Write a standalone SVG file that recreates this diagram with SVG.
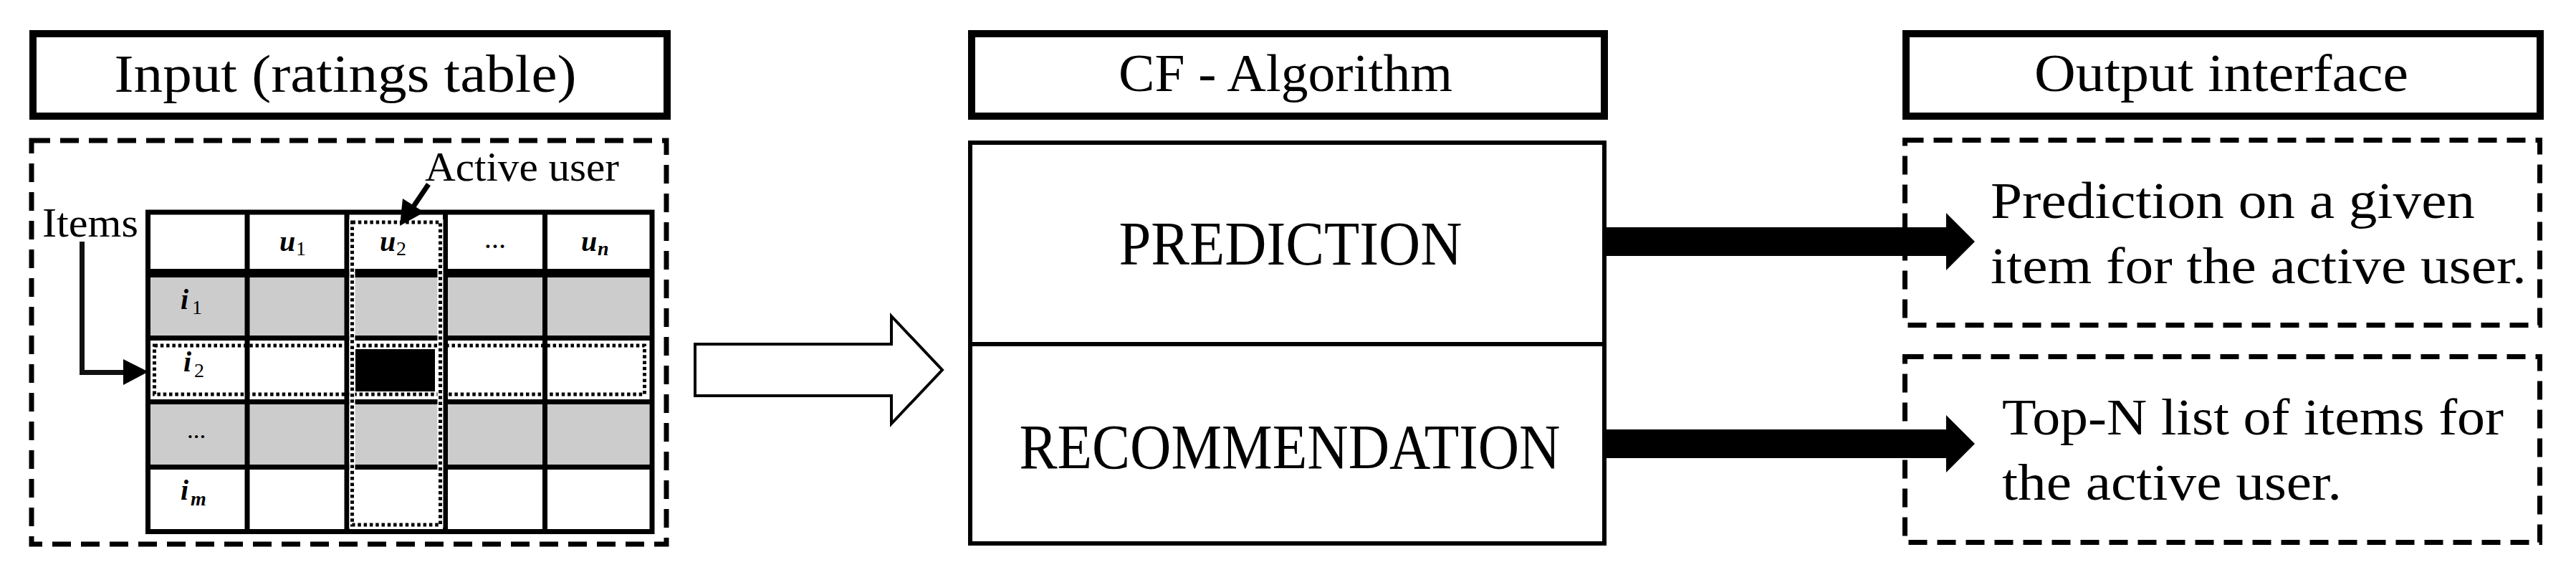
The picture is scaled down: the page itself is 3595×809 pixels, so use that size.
<svg xmlns="http://www.w3.org/2000/svg" width="3595" height="809" viewBox="0 0 3595 809">
<style>
.t{font-family:"Liberation Serif","Times New Roman",serif;fill:#000}
.title{stroke:#000;stroke-width:10;fill:#fff}
.dash{stroke:#000;stroke-width:7;fill:none;stroke-dasharray:26 14}
.grid{stroke:#000;stroke-width:7;fill:none}
.m{font-family:"Liberation Serif","Times New Roman",serif;font-weight:bold;font-style:italic;fill:#000}
.s{font-family:"Liberation Serif","Times New Roman",serif;font-weight:normal;font-style:normal;fill:#000}
.dotw{stroke:#fff;stroke-width:8;fill:none}
.dot{stroke:#000;stroke-width:5;fill:none;stroke-dasharray:4.5 3.8}
.blk{fill:#000;stroke:none}
</style>
<rect width="3595" height="809" fill="#fff"/>

<g id="input-title">
<rect class="title" x="46" y="47" width="885" height="115"/>
<text class="t" x="482" y="128" font-size="75" text-anchor="middle" textLength="645" lengthAdjust="spacingAndGlyphs">Input (ratings table)</text>
</g>

<g id="input-panel">
<rect class="dash" x="44" y="196" width="886" height="563"/>
<text class="t" x="593" y="252" font-size="56" textLength="271" lengthAdjust="spacingAndGlyphs">Active user</text>
<text class="t" x="59" y="330" font-size="57" textLength="134" lengthAdjust="spacingAndGlyphs">Items</text>
<!-- table fills -->
<rect x="206" y="296" width="704" height="446" fill="#fff"/>
<rect x="210" y="387" width="696" height="81" fill="#cccccc"/>
<rect x="210" y="564" width="696" height="84" fill="#cccccc"/>
<rect x="496" y="487" width="111" height="59" fill="#000"/>
<!-- grid -->
<rect class="grid" x="206.5" y="296" width="703.5" height="445.5"/>
<path class="grid" d="M345 296V741.5M484 296V741.5M621.5 296V741.5M760.5 296V741.5M206.5 471.5H910M206.5 560.5H910M206.5 651.5H910"/>
<path d="M206.5 381H910" stroke="#000" stroke-width="12"/>
<!-- highlighted row and column -->
<rect class="dot" x="215.5" y="482" width="684" height="68"/>
<rect class="dotw" x="491.5" y="310" width="123" height="422"/>
<rect class="dot" x="491.5" y="310" width="123" height="422"/>
<!-- labels -->
<text class="m" x="390" y="350" font-size="40">u</text><text class="s" x="413" y="356" font-size="28">1</text>
<text class="m" x="530" y="350" font-size="40">u</text><text class="s" x="553" y="356" font-size="28">2</text>
<text class="m" x="692" y="346" font-size="30" text-anchor="middle">…</text>
<text class="m" x="811" y="350" font-size="40">u</text><text class="m" x="834" y="356" font-size="28">n</text>
<text class="m" x="252" y="431" font-size="40">i</text><text class="s" x="268" y="438" font-size="28">1</text>
<text class="m" x="256" y="518" font-size="40">i</text><text class="s" x="271" y="526" font-size="28">2</text>
<text class="m" x="275" y="611" font-size="26" text-anchor="middle">…</text>
<text class="m" x="252" y="697" font-size="40">i</text><text class="m" x="266" y="705" font-size="28">m</text>
</g>

<g id="cf-title">
<rect class="title" x="1356" y="47" width="883" height="115"/>
<text class="t" x="1794" y="127" font-size="75" text-anchor="middle" textLength="466" lengthAdjust="spacingAndGlyphs">CF - Algorithm</text>
</g>

<g id="algorithm">
<rect x="1354" y="199" width="885" height="559" fill="#fff" stroke="#000" stroke-width="6"/>
<path d="M1354 480H2239" stroke="#000" stroke-width="6"/>
<text class="t" x="1801" y="369" font-size="87" text-anchor="middle" textLength="479" lengthAdjust="spacingAndGlyphs">PREDICTION</text>
<text class="t" x="1800" y="653" font-size="89" text-anchor="middle" textLength="755" lengthAdjust="spacingAndGlyphs">RECOMMENDATION</text>
</g>

<g id="output-title">
<rect class="title" x="2660" y="47" width="885" height="115"/>
<text class="t" x="3100" y="127" font-size="75" text-anchor="middle" textLength="522" lengthAdjust="spacingAndGlyphs">Output interface</text>
</g>

<g id="output-prediction">
<rect class="dash" x="2658.5" y="195.5" width="886" height="258"/>
<text class="t" x="2778" y="304" font-size="71" textLength="676" lengthAdjust="spacingAndGlyphs">Prediction on a given</text>
<text class="t" x="2778" y="395" font-size="71" textLength="748" lengthAdjust="spacingAndGlyphs">item for the active user.</text>
</g>

<g id="output-topn">
<rect class="dash" x="2658.5" y="497.5" width="886" height="259"/>
<text class="t" x="2794" y="606" font-size="71" textLength="700" lengthAdjust="spacingAndGlyphs">Top-N list of items for</text>
<text class="t" x="2794" y="697" font-size="71" textLength="474" lengthAdjust="spacingAndGlyphs">the active user.</text>
</g>

<g id="connectors">
<path d="M598 257L575 291" stroke="#000" stroke-width="7" fill="none"/>
<polygon class="blk" points="562,277 592,296 558,315"/>
<polyline points="114.5,337 114.5,519.5 176,519.5" stroke="#111" stroke-width="7" fill="none"/>
<polygon class="blk" points="172,501 207,518.5 172,537"/>
<polygon points="970,480 1244,480 1244,441 1315,516 1244,591 1244,552 970,552" fill="#fff" stroke="#000" stroke-width="4"/>
<polygon class="blk" points="2239,317 2716,317 2716,297 2756,337 2716,377 2716,357 2239,357"/>
<polygon class="blk" points="2239,599 2716,599 2716,579 2756,619 2716,659 2716,639 2239,639"/>
</g>
</svg>
